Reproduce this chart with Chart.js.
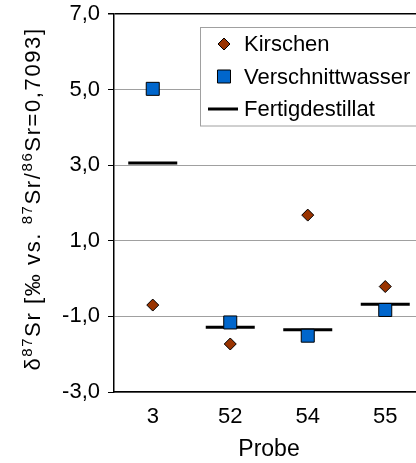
<!DOCTYPE html>
<html>
<head>
<meta charset="utf-8">
<script src="https://cdn.jsdelivr.net/npm/chart.js@4/dist/chart.umd.min.js"></script>
<style>
  html, body { margin: 0; padding: 0; background: #fff; overflow: hidden; }
  #wrap { position: relative; width: 424px; height: 463px; }
</style>
</head>
<body>
<div id="wrap"><canvas id="chart"></canvas></div>
<script>
const probes = ['3', '52', '54', '55'];
const kirschen = [-0.70, -1.73, 1.68, -0.21];
const verschnittwasser = [5.02, -1.16, -1.51, -0.83];
const fertigdestillat = [3.06, -1.29, -1.35, -0.68];
const yTicks = [-3, -1, 1, 3, 5, 7];
// y title as pieces: [text, superscript?]
const yTitleParts = [['δ', false], ['87', true], ['Sr [‰ vs. ', false], ['87', true],
                     ['Sr/', false], ['86', true], ['Sr=0,7093]', false]];

const FONT = '"Liberation Sans", Arial, sans-serif';

// legend drawn inside the plot with a grey frame, like the original
const boxLegend = {
  id: 'boxLegend',
  afterDatasetsDraw(chart) {
    const ctx = chart.ctx;
    const area = chart.chartArea;
    const x0 = area.left + 86;
    const y0 = area.top + 13;
    const rowH = 32.5;
    const rows = chart.data.datasets.length;

    ctx.save();
    ctx.fillStyle = '#fff';
    ctx.strokeStyle = '#a0a0a0';
    ctx.lineWidth = 1;
    ctx.fillRect(x0, y0, 240, rowH * rows + 1);
    ctx.strokeRect(x0 + 0.5, y0 + 0.5, 240, rowH * rows + 1);

    chart.data.datasets.forEach((ds, i) => {
      const cy = y0 + 17 + i * rowH;
      const isLine = ds.pointStyle === 'line';
      ctx.fillStyle = ds.pointBackgroundColor;
      ctx.strokeStyle = ds.pointBorderColor;
      ctx.lineWidth = ds.pointBorderWidth;
      Chart.helpers.drawPoint(ctx, {
        pointStyle: ds.pointStyle,
        radius: isLine ? 15 : ds.pointRadius,
        rotation: 0,
        borderWidth: ds.pointBorderWidth
      }, x0 + (isLine ? 23 : 24), cy);
      ctx.fillStyle = '#000';
      ctx.font = '22px ' + FONT;
      ctx.textBaseline = 'middle';
      ctx.textAlign = 'left';
      ctx.fillText(ds.label, x0 + 44, cy + 1);
    });
    ctx.restore();
  }
};

// rotated y title with real superscripts
const yTitle = {
  id: 'yTitle',
  afterDraw(chart) {
    const ctx = chart.ctx;
    const area = chart.chartArea;
    const mainFont = '22px ' + FONT;
    const supFont = '15px ' + FONT;
    ctx.save();
    ctx.letterSpacing = '1.6px';
    let total = 0;
    yTitleParts.forEach(([t, sup]) => {
      ctx.font = sup ? supFont : mainFont;
      total += ctx.measureText(t).width;
    });
    ctx.translate(40, (area.top + area.bottom) / 2 - 4);
    ctx.rotate(-Math.PI / 2);
    ctx.fillStyle = '#000';
    ctx.textBaseline = 'alphabetic';
    ctx.textAlign = 'left';
    let x = -total / 2;
    yTitleParts.forEach(([t, sup]) => {
      ctx.font = sup ? supFont : mainFont;
      ctx.fillText(t, x, sup ? -8 : 0);
      x += ctx.measureText(t).width;
    });
    ctx.restore();
  }
};

new Chart(document.getElementById('chart'), {
  type: 'line',
  data: {
    labels: probes,
    datasets: [
      {
        label: 'Kirschen',
        data: kirschen,
        showLine: false,
        pointStyle: 'rectRot',
        pointRadius: 6,
        pointBackgroundColor: '#993300',
        pointBorderColor: '#000',
        pointBorderWidth: 1
      },
      {
        label: 'Verschnittwasser',
        data: verschnittwasser,
        showLine: false,
        pointStyle: 'rect',
        pointRadius: 9.2,
        pointBackgroundColor: '#0066CC',
        pointBorderColor: '#000',
        pointBorderWidth: 1
      },
      {
        label: 'Fertigdestillat',
        data: fertigdestillat,
        showLine: false,
        pointStyle: 'line',
        pointRadius: 24.5,
        pointBackgroundColor: '#000',
        pointBorderColor: '#000',
        pointBorderWidth: 3
      }
    ]
  },
  options: {
    responsive: true,
    maintainAspectRatio: false,
    animation: false,
    layout: { autoPadding: false, padding: { top: 14, right: 0, left: 44, bottom: 0 } },
    plugins: {
      legend: { display: false },
      tooltip: { enabled: false }
    },
    scales: {
      x: {
        type: 'category',
        offset: true,
        afterFit: axis => { axis.height = 71; },
        grid: { display: false, drawTicks: false },
        border: { display: true, color: '#000', width: 1.5 },
        ticks: {
          color: '#000',
          padding: 12,
          font: { family: FONT, size: 22 }
        },
        title: {
          display: true,
          text: 'Probe',
          color: '#000',
          padding: { top: 0, bottom: 0 },
          font: { family: FONT, size: 23 }
        }
      },
      y: {
        min: -3,
        max: 7,
        afterFit: axis => {
          axis.width = 70;
          axis.paddingTop = 0;
          axis.paddingBottom = 0;
        },
        afterBuildTicks: axis => { axis.ticks = yTicks.map(v => ({ value: v })); },
        grid: {
          color: ctx => (ctx.tick && ctx.tick.value === 7) ? '#000' : '#a0a0a0',
          lineWidth: ctx => (ctx.tick && ctx.tick.value === 7) ? 1.5 : 1,
          tickColor: '#000',
          tickLength: 6
        },
        border: { display: true, color: '#000', width: 1.5 },
        ticks: {
          color: '#000',
          padding: 8,
          font: { family: FONT, size: 22 },
          callback: v => v.toFixed(1).replace('.', ',')
        }
      }
    }
  },
  plugins: [boxLegend, yTitle]
});
</script>
</body>
</html>
